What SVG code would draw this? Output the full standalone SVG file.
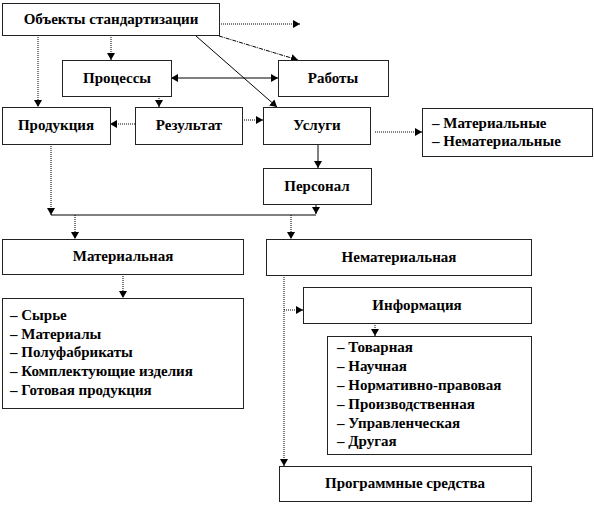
<svg xmlns="http://www.w3.org/2000/svg" width="594" height="505" viewBox="0 0 594 505">
<style>
.box{fill:#fff;stroke:#222;stroke-width:1}
.t{font-family:"Liberation Serif","Times New Roman",serif;font-weight:bold;font-size:15px;fill:#000}
.c{text-anchor:middle}
.dot{fill:none;stroke:#000;stroke-width:1;stroke-dasharray:1 1}
.sol{fill:none;stroke:#000;stroke-width:1}
.dd{fill:none;stroke:#000;stroke-width:1;stroke-dasharray:4 1 1 1}
</style>
<defs>
<marker id="ah" markerUnits="userSpaceOnUse" markerWidth="8" markerHeight="8" refX="7" refY="4" orient="auto">
<path d="M0,0 L7,4 L0,8 z" fill="#000"/>
</marker>
<marker id="as" markerUnits="userSpaceOnUse" markerWidth="8" markerHeight="8" refX="0" refY="4" orient="auto">
<path d="M7,0 L0,4 L7,8 z" fill="#000"/>
</marker>
</defs>
<rect width="594" height="505" fill="#fff"/>
<g id="connectors">
<line class="dot" x1="219" y1="24" x2="300" y2="24" marker-end="url(#ah)"/>
<line class="dot" x1="38" y1="35" x2="38" y2="107" marker-end="url(#ah)"/>
<line class="dot" x1="111" y1="35" x2="111" y2="60" marker-end="url(#ah)"/>
<line class="sol" x1="196" y1="36" x2="277" y2="107" marker-end="url(#ah)"/>
<line class="dd" x1="219" y1="36" x2="298" y2="60" marker-end="url(#ah)"/>
<line class="sol" x1="171" y1="78" x2="278" y2="78" marker-start="url(#as)" marker-end="url(#ah)"/>
<line class="dot" x1="159" y1="96" x2="159" y2="107" marker-end="url(#ah)"/>
<line class="dot" x1="135" y1="124" x2="110" y2="124" marker-end="url(#ah)"/>
<line class="dot" x1="242" y1="120" x2="263" y2="120" marker-end="url(#ah)"/>
<line class="dot" x1="375" y1="132" x2="422" y2="132" marker-end="url(#ah)"/>
<line class="sol" x1="318" y1="144" x2="318" y2="168" marker-end="url(#ah)"/>
<line class="dot" x1="51" y1="144" x2="51" y2="215" marker-end="url(#ah)"/>
<line class="sol" x1="316" y1="204" x2="316" y2="214" marker-end="url(#ah)"/>
<line class="sol" x1="51" y1="215" x2="316" y2="215"/>
<line class="dot" x1="75" y1="215" x2="75" y2="239" marker-end="url(#ah)"/>
<line class="dot" x1="291" y1="215" x2="291" y2="239" marker-end="url(#ah)"/>
<line class="dot" x1="123" y1="274" x2="123" y2="298" marker-end="url(#ah)"/>
<line class="dot" x1="284" y1="275" x2="284" y2="466" marker-end="url(#ah)"/>
<line class="dot" x1="284" y1="310" x2="303" y2="310" marker-end="url(#ah)"/>
<line class="dot" x1="375" y1="323" x2="375" y2="336" marker-end="url(#ah)"/>
</g>
<g id="objects"><rect class="box" x="2.5" y="3.5" width="217" height="32"/><text class="t c" x="111" y="24">Объекты стандартизации</text></g>
<g id="processes"><rect class="box" x="62.5" y="60.5" width="109" height="36"/><text class="t c" x="117" y="83">Процессы</text></g>
<g id="works"><rect class="box" x="278.5" y="60.5" width="110" height="36"/><text class="t c" x="333" y="83">Работы</text></g>
<g id="production"><rect class="box" x="2.5" y="107.5" width="108" height="37"/><text class="t c" x="56" y="130">Продукция</text></g>
<g id="result"><rect class="box" x="135.5" y="107.5" width="107" height="37"/><text class="t c" x="189" y="130">Результат</text></g>
<g id="services"><rect class="box" x="263.5" y="107.5" width="107" height="37"/><text class="t c" x="317" y="130">Услуги</text></g>
<g id="service-types"><rect class="box" x="422.5" y="108.5" width="170" height="48"/><text class="t" x="432" y="128">– Материальные</text><text class="t" x="432" y="146">– Нематериальные</text></g>
<g id="personnel"><rect class="box" x="263.5" y="168.5" width="108" height="36"/><text class="t c" x="317" y="191">Персонал</text></g>
<g id="material"><rect class="box" x="2.5" y="239.5" width="241" height="35"/><text class="t c" x="123" y="261">Материальная</text></g>
<g id="nonmaterial"><rect class="box" x="266.5" y="239.5" width="265" height="36"/><text class="t c" x="399" y="262">Нематериальная</text></g>
<g id="material-list"><rect class="box" x="2.5" y="298.5" width="241" height="110"/>
<text class="t" x="10" y="320">– Сырье</text>
<text class="t" x="10" y="339">– Материалы</text>
<text class="t" x="10" y="357">– Полуфабрикаты</text>
<text class="t" x="10" y="376">– Комплектующие изделия</text>
<text class="t" x="10" y="395">– Готовая продукция</text></g>
<g id="information"><rect class="box" x="303.5" y="287.5" width="228" height="36"/><text class="t c" x="417" y="310">Информация</text></g>
<g id="info-list"><rect class="box" x="327.5" y="336.5" width="204" height="118"/>
<text class="t" x="337" y="352">– Товарная</text>
<text class="t" x="337" y="371">– Научная</text>
<text class="t" x="337" y="390">– Нормативно-правовая</text>
<text class="t" x="337" y="409">– Производственная</text>
<text class="t" x="337" y="428">– Управленческая</text>
<text class="t" x="337" y="446">– Другая</text></g>
<g id="software"><rect class="box" x="279.5" y="466.5" width="252" height="35"/><text class="t c" x="405" y="488">Программные средства</text></g>
</svg>
